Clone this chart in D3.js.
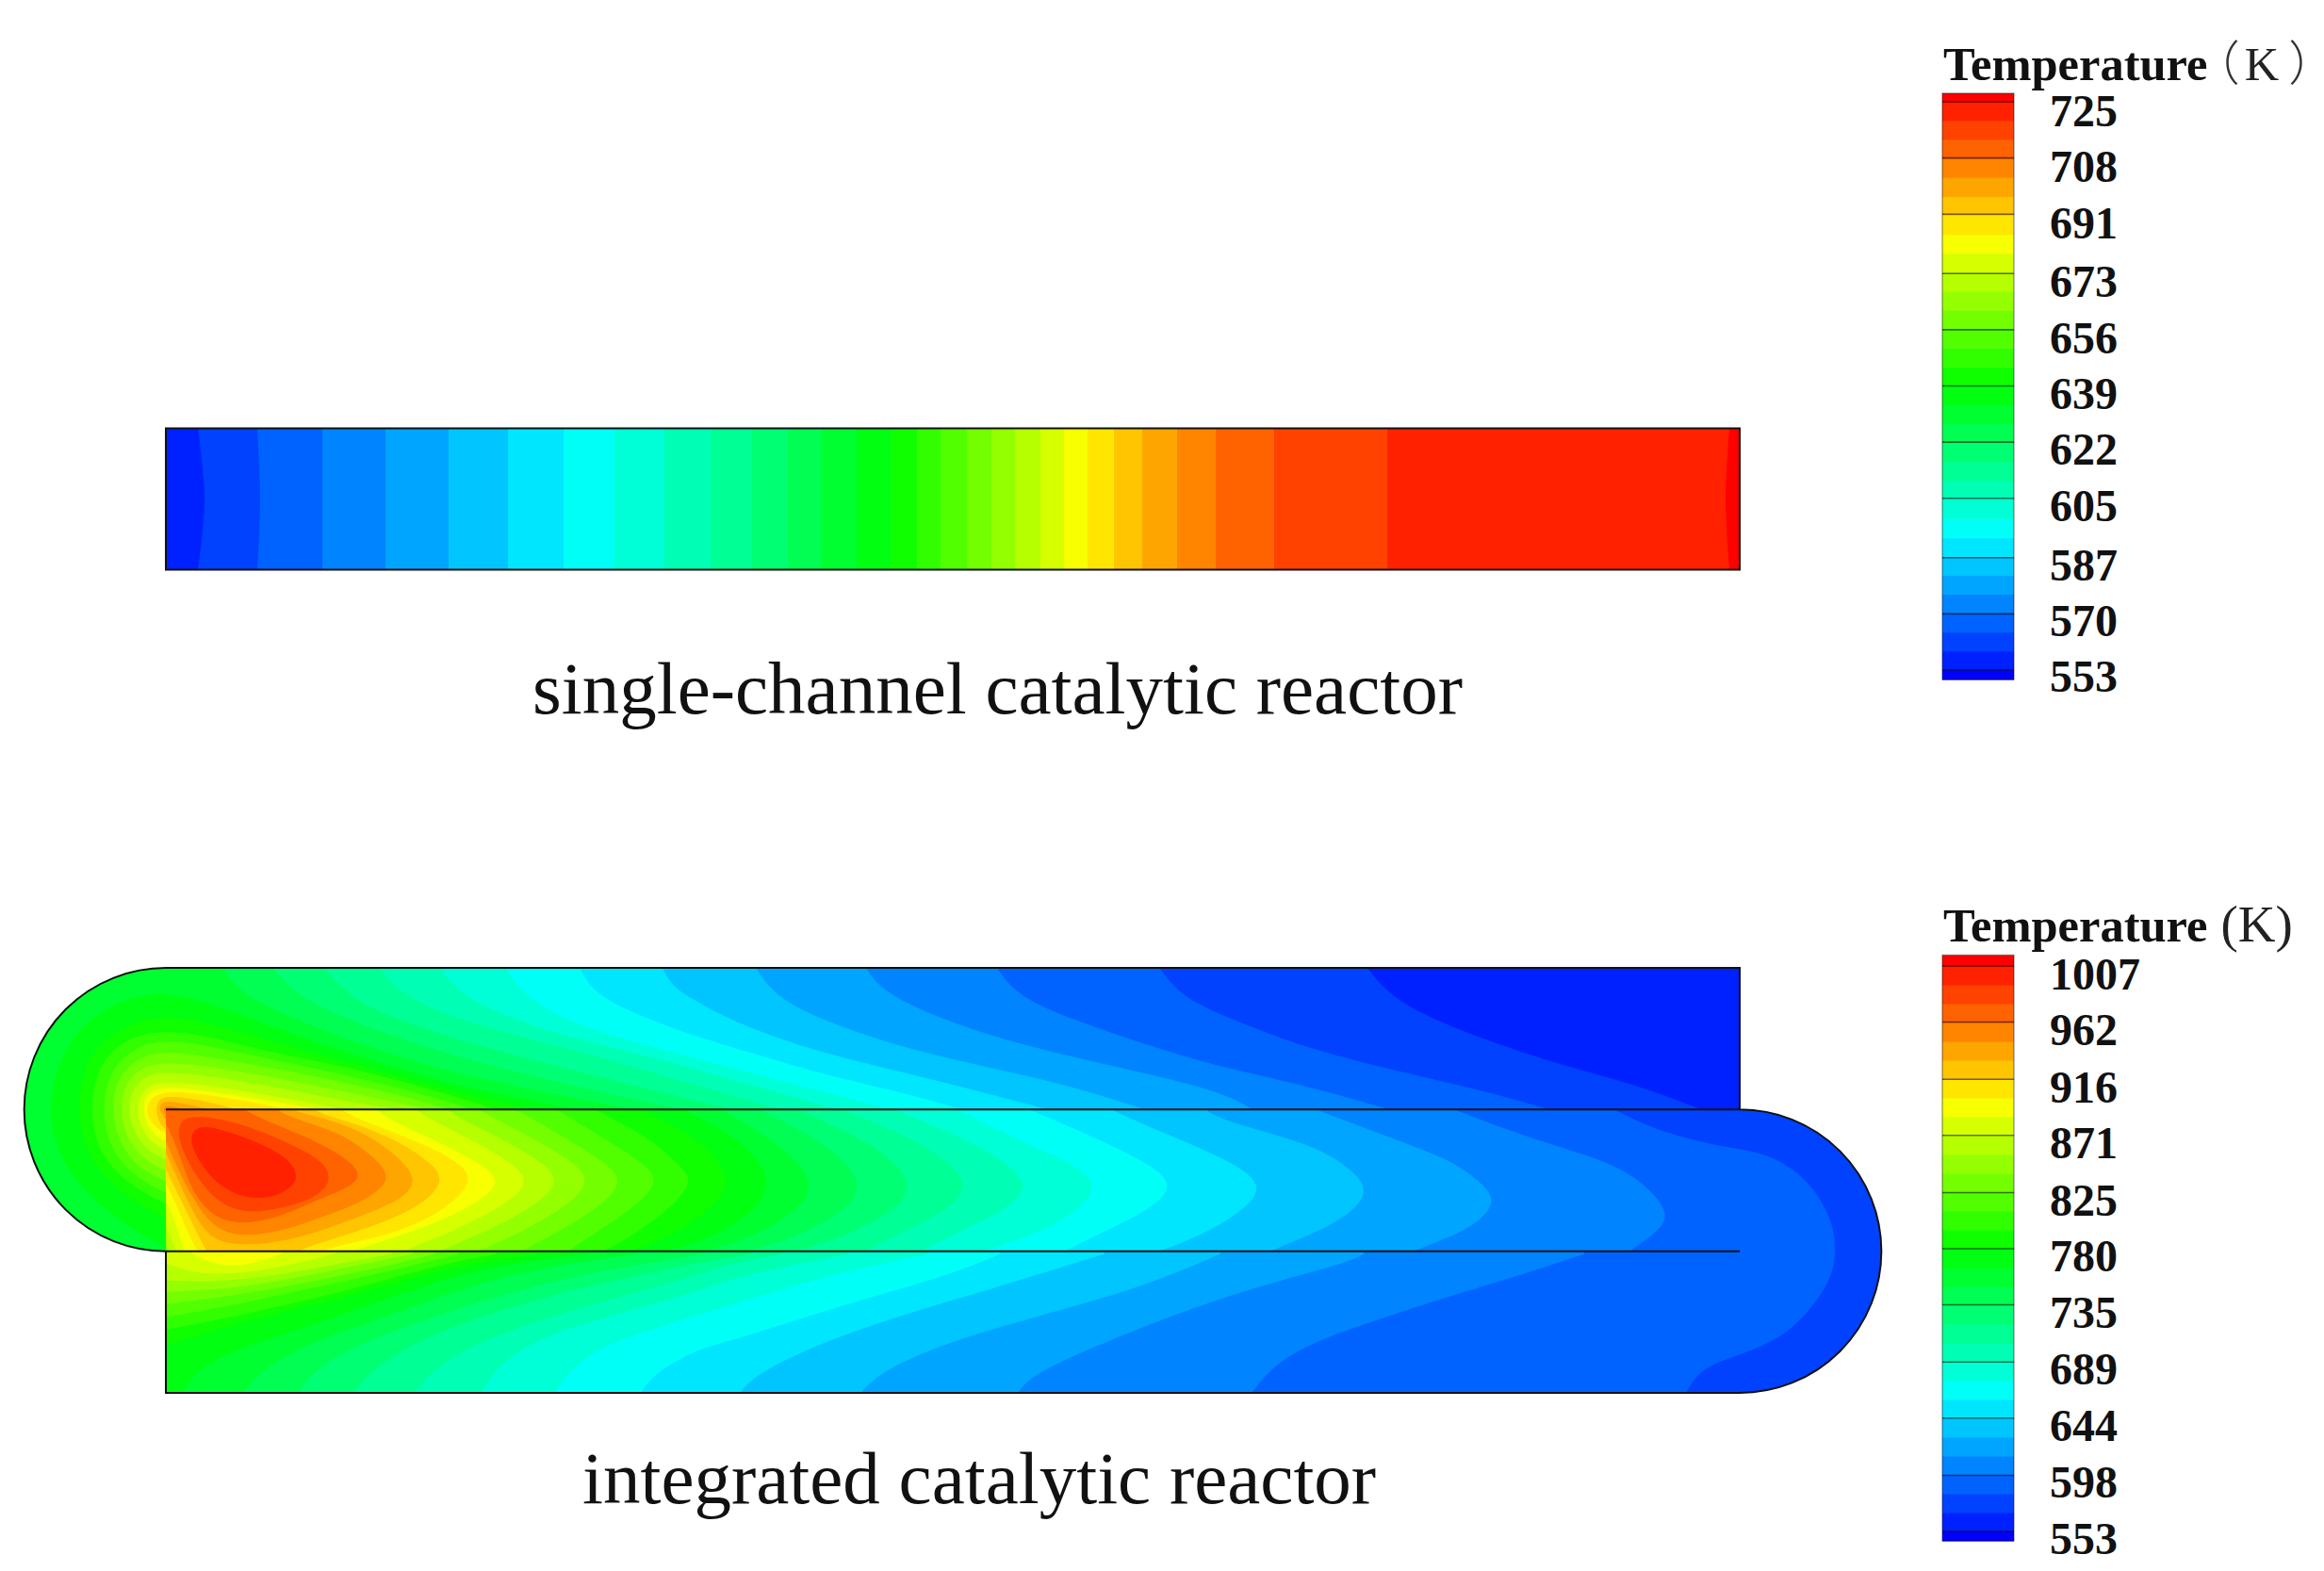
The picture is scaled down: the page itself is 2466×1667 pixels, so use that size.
<!DOCTYPE html>
<html><head><meta charset="utf-8">
<script src="https://cdn.jsdelivr.net/npm/d3@7/dist/d3.min.js"></script>
<style>html,body{margin:0;padding:0;background:#fff}svg{display:block}</style>
</head><body><svg id="c" width="2466" height="1667"></svg>
<script>
// ---------- readings ----------
const singleCaption = "single-channel catalytic reactor";
const integratedCaption = "integrated catalytic reactor";
const singleTicks = [553,570,587,605,622,639,656,673,691,708,725];
const integratedTicks = [553,598,644,689,735,780,825,871,916,962,1007];
const BAND_COUNT = 32;

// single channel: each contour level as [axial position at the walls, axial position at mid height]
const singleEdges = [[34,41],[97,100],[166,166],[233,233],[300,300],[363,363],[422,422],[476,476],[529,529],[578,578],[622,622],[660,660],[696,696],[733,733],[770,770],[797,797],[822,822],[850,850],[876,876],[901,901],[928,928],[953,953],[978,978],[1006,1006],[1036,1036],[1073,1073],[1114,1114],[1176,1176],[1296,1296],[1659,1655]];

// integrated reactor: contour level -> polyline [axial, transverse]
const topOpen = [
[1,[[1275,0],[1298,30],[1354,60],[1468,100],[1560,123],[1629,150]]],
[2,[[1054,0],[1077,30],[1124,52],[1174,71],[1216,86],[1308,110],[1399,130],[1468,150]]],
[3,[[882,0],[903,30],[965,56],[1054,86],[1124,106],[1216,126],[1298,150]]],
[4,[[743,0],[760,26],[831,58],[920,85],[1032,110],[1121,131],[1153,150]]],
[5,[[626,0],[646,30],[697,56],[786,86],[876,106],[965,126],[1039,150]]],
[6,[[527,0],[537,20],[564,36],[608,60],[697,91],[786,111],[898,140],[938,150]]],
[7,[[439,0],[451,23],[484,43],[531,61],[564,73],[608,86],[697,113],[786,133],[845,150]]],
[8,[[361,0],[377,26],[414,50],[464,70],[564,96],[653,120],[742,142],[764,150]]],
[9,[[291,0],[307,23],[347,46],[414,70],[497,90],[564,108],[650,132],[711,150]]],
[10,[[227,0],[247,26],[297,50],[364,70],[464,95],[564,125],[653,150]]],
[11,[[168,0],[197,33],[247,56],[331,83],[431,108],[564,142],[603,150]]],
[12,[[114,0],[134,26],[184,51],[247,75],[331,100],[431,125],[547,150]]],
[13,[[61,0],[77,26],[127,50],[184,73],[264,100],[364,125],[497,150]]]
];
const topPocket = [
[14,[[0,297],[-50,268],[-100,225],[-125,170],[-120,110],[-90,58],[-39,30],[0,26],[44,36],[111,62],[184,87],[264,112],[331,130],[437,150]]],
[15,[[0,266],[-50,238],[-85,198],[-95,150],[-85,92],[-45,60],[0,50],[44,58],[111,78],[184,97],[264,120],[331,137],[390,150]]],
[16,[[0,250],[-42,228],[-72,195],[-81,150],[-72,100],[-38,72],[0,66],[44,72],[111,90],[184,103],[270,125],[350,150]]],
[17,[[0,238],[-36,220],[-60,190],[-68,150],[-60,108],[-32,83],[0,76],[44,82],[111,97],[184,112],[260,130],[325,150]]],
[18,[[0,226],[-30,212],[-50,185],[-58,150],[-52,115],[-28,94],[0,88],[44,94],[111,106],[184,120],[250,135],[300,150]]],
[19,[[0,215],[-24,203],[-42,180],[-49,150],[-44,122],[-24,104],[0,100],[44,104],[111,115],[184,130],[280,150]]],
[20,[[0,203],[-18,195],[-34,175],[-41,150],[-36,128],[-20,113],[0,110],[44,114],[111,125],[184,140],[247,150]]],
[21,[[0,193],[-12,187],[-26,172],[-31,150],[-28,135],[-16,123],[0,120],[44,124],[111,135],[170,146],[190,150]]],
[22,[[0,183],[-9,180],[-21,166],[-24,150],[-23,140],[-16,130],[0,126],[44,130],[111,141],[165,150]]],
[23,[[0,175],[-10,170],[-18,160],[-21,150],[-17,138],[0,130],[44,134],[90,142],[130,150]]],
[24,[[0,171],[-7,165],[-11,150],[-8,140],[0,135],[40,140],[75,150]]],
[25,[[0,160],[-8,150],[-5,144],[0,140],[30,146],[48,150]]],
[26,[[0,155],[-3,150],[0,145],[20,150]]]
];
const rightCapLevel2 = [[1537,150],[1583,173],[1652,190],[1698,195],[1744,223],[1772,273],[1772,316],[1758,346],[1721,390],[1670,410],[1629,423],[1613,450]];
const midOpen = [
[2,rightCapLevel2],
[3,[[1367,150],[1445,180],[1537,206],[1574,233],[1598,263],[1578,283],[1553,300]]],
[4,[[1220,150],[1308,183],[1363,203],[1400,230],[1412,250],[1386,275],[1349,290],[1324,300]]],
[5,[[1103,150],[1124,163],[1216,186],[1258,213],[1278,236],[1256,262],[1216,282],[1172,300]]],
[6,[[1003,150],[1054,173],[1121,200],[1170,230],[1139,260],[1099,283],[1054,300]]],
[7,[[916,150],[987,180],[1041,206],[1072,230],[1045,256],[987,283],[954,300]]],
[8,[[840,150],[898,180],[961,206],[992,230],[965,260],[920,283],[867,300]]],
[9,[[773,150],[860,185],[928,230],[880,262],[830,285],[802,300]]],
[10,[[718,150],[805,185],[861,230],[820,262],[770,285],[742,300]]],
[11,[[670,150],[750,185],[801,230],[762,265],[710,288],[666,300]]],
[12,[[630,150],[700,185],[747,230],[710,265],[660,288],[617,300]]],
[13,[[590,150],[650,185],[695,230],[660,265],[615,288],[570,300]]],
[14,[[548,150],[610,180],[649,228],[615,265],[575,288],[530,300]]],
[15,[[504,150],[560,176],[608,225],[570,262],[530,286],[495,300]]],
[16,[[457,151],[514,180],[541,206],[562,225],[534,256],[491,286],[464,300]]],
[17,[[414,150],[464,180],[501,203],[527,225],[494,256],[447,286],[427,300]]],
[18,[[371,150],[424,180],[461,203],[489,225],[457,256],[404,286],[377,300]]],
[19,[[331,150],[381,176],[424,200],[455,225],[421,256],[364,286],[331,300]]]
];
const midPocket = [
[20,[[-20,130],[285,130],[294,151],[341,173],[391,200],[423,225],[387,256],[324,286],[287,300],[275,318],[5,318],[5,300],[-5,285]]],
[21,[[-20,130],[252,130],[261,151],[307,173],[354,198],[392,225],[357,253],[297,283],[247,300],[235,318],[15,318],[11,300],[5,285],[-5,262]]],
[22,[[-20,130],[210,130],[219,151],[264,173],[314,196],[364,225],[324,253],[264,280],[191,300],[180,318],[25,318],[19,300],[9,266],[-5,235]]],
[23,[[-20,130],[172,130],[181,151],[231,170],[281,190],[311,206],[328,225],[297,256],[247,280],[197,291],[160,300],[150,318],[40,318],[34,300],[21,276],[11,250],[-5,218]]],
[24,[[-20,130],[141,130],[150,151],[197,163],[247,183],[281,206],[297,225],[271,253],[214,276],[164,291],[137,300],[127,318],[50,318],[44,300],[34,283],[21,256],[-5,203]]],
[25,[[-20,130],[118,130],[127,151],[174,160],[214,176],[247,200],[268,225],[251,245],[214,260],[161,280],[111,293],[64,293],[44,283],[27,256],[14,226],[-5,185]]],
[26,[[-20,130],[102,130],[111,151],[164,168],[190,178],[221,200],[243,225],[205,250],[161,265],[127,278],[84,285],[54,278],[34,253],[17,223],[-5,172]]],
[27,[[-20,130],[68,130],[77,151],[144,176],[191,200],[215,225],[161,245],[127,262],[77,274],[44,260],[24,229],[11,186],[-5,155]]]
];
const midCore = [
[28,[[176,223],[166,203],[127,184],[77,163],[28,155],[12,164],[14,188],[36,228],[61,253],[94,261],[146,249],[166,237]]],
[29,[[141,220],[129,200],[94,183],[51,168],[31,168],[24,183],[39,212],[60,233],[84,244],[113,244],[134,232]]]
];
const lowOpen = [
[2,rightCapLevel2],
[3,[[1505,303],[1445,323],[1354,350],[1262,380],[1184,410],[1152,450]]],
[4,[[1271,303],[1253,313],[1124,346],[987,400],[920,430],[904,450]]],
[5,[[1119,303],[1032,340],[920,370],[831,396],[760,426],[737,450]]],
[6,[[996,303],[876,340],[786,366],[697,396],[626,430],[609,450]]],
[7,[[885,303],[831,326],[697,363],[608,393],[564,403],[517,430],[504,450]]],
[8,[[809,303],[697,326],[564,368],[514,383],[464,400],[431,423],[412,450]]],
[9,[[724,303],[608,326],[564,343],[497,361],[431,380],[381,400],[351,423],[334,450]]],
[10,[[653,303],[586,316],[564,326],[464,353],[397,373],[331,396],[281,426],[264,450]]],
[11,[[620,303],[564,312],[464,333],[397,350],[331,370],[264,396],[217,426],[199,450]]],
[12,[[570,303],[530,310],[464,320],[397,335],[324,356],[251,381],[201,400],[157,426],[141,450]]],
[13,[[500,303],[464,308],[397,318],[324,336],[251,363],[184,386],[134,406],[97,430],[82,450]]],
[14,[[447,303],[390,310],[324,320],[217,356],[151,380],[84,400],[34,423],[17,450]]],
[15,[[397,303],[324,312],[251,332],[184,350],[117,366],[51,383],[0,400]]],
[16,[[351,303],[300,312],[234,330],[151,352],[67,370],[0,383]]],
[17,[[310,303],[251,318],[151,340],[67,358],[0,370]]],
[18,[[285,303],[234,316],[151,333],[67,348],[0,356]]],
[19,[[262,303],[201,315],[117,333],[51,341],[0,343]]],
[20,[[240,303],[184,313],[117,326],[51,333],[0,331]]],
[21,[[184,301],[171,305],[117,318],[67,325],[27,323],[0,313]]]
];
const lowPocket = [
[22,[[21,290],[21,301],[61,318],[94,313],[131,301],[131,290]]]
];

// ---------- scales ----------
const svg = d3.select("#c");
const x = d3.scaleLinear().domain([0,1670]).range([176,1846]);
const y = d3.scaleLinear().domain([0,450]).range([1027,1478]);
const ySingle = d3.scaleLinear().domain([0,150]).range([454.5,604.5]);
const rainbow = d3.scaleLinear().domain([0,.25,.5,.75,1]).range(["#0000ff","#00ffff","#00ff00","#ffff00","#ff0000"]);
const band = k => rainbow(k/(BAND_COUNT-1));
const defs = svg.append("defs");

// ---------- single channel ----------
const single = svg.append("g");
defs.append("clipPath").attr("id","zs").append("rect")
  .attr("x",x(0)).attr("y",ySingle(0)).attr("width",x(1670)-x(0)).attr("height",ySingle(150)-ySingle(0));
const gs = single.append("g").attr("clip-path","url(#zs)");
gs.append("rect").attr("x",x(0)).attr("y",ySingle(0)).attr("width",x(1670)-x(0)).attr("height",ySingle(150)-ySingle(0)).attr("fill",band(1));
const sLine = d3.line().x(d=>x(d[0])).y(d=>ySingle(d[1])).curve(d3.curveCatmullRom.alpha(.5));
gs.selectAll("path").data(singleEdges).join("path")
  .attr("fill",(d,i)=>band(i+2))
  .attr("d",d=>sLine([[d[0],-1],[d[1],75],[d[0],151]])+`L${x(1700)},${ySingle(151)}L${x(1700)},${ySingle(-1)}Z`);
single.append("rect").attr("x",x(0)).attr("y",ySingle(0)).attr("width",x(1670)-x(0)).attr("height",ySingle(150)-ySingle(0))
  .attr("fill","none").attr("stroke","#111").attr("stroke-width",2);

// ---------- integrated ----------
const r = x(150)-x(0);
const P = (a,b)=>`${x(a)},${y(b)}`;
defs.append("clipPath").attr("id","z1").append("path")
  .attr("d",`M${P(0,0)}L${P(1670,0)}L${P(1670,150)}L${P(0,150)}L${P(0,300)}A${r},${r} 0 0 1 ${P(0,0)}Z`);
defs.append("clipPath").attr("id","z2").append("path")
  .attr("d",`M${P(0,150)}L${P(1670,150)}L${P(1670,300)}L${P(0,300)}Z`);
defs.append("clipPath").attr("id","z3").append("path")
  .attr("d",`M${P(0,300)}L${P(1670,300)}L${P(1670,150)}A${r},${r} 0 0 1 ${P(1670,450)}L${P(0,450)}Z`);
const lineI = d3.line().x(d=>x(d[0])).y(d=>y(d[1])).curve(d3.curveBasis);
const lineClosed = d3.line().x(d=>x(d[0])).y(d=>y(d[1])).curve(d3.curveBasisClosed);
const openPath = pts=>{
  const a=pts[0], b=pts[pts.length-1];
  return lineI(pts)+`L${P(b[0],b[1]+300)}L${P(-400,b[1]+300)}L${P(-400,a[1]-300)}L${P(a[0],a[1]-300)}Z`;
};
const pocketPath = pts=>lineI(pts)+"Z";
function zone(id,baseBand,layers){
  const g = svg.append("g").attr("clip-path",`url(#${id})`);
  g.append("rect").attr("x",0).attr("y",y(-10)).attr("width",2466).attr("height",y(460)-y(-10)).attr("fill",band(baseBand));
  layers.forEach(([rows,fn])=>{
    g.append("g").selectAll("path").data(rows).join("path")
      .attr("fill",d=>band(d[0]+1)).attr("d",d=>fn(d[1]));
  });
}
zone("z1",1,[[topOpen,openPath],[topPocket,pocketPath]]);
zone("z2",2,[[midOpen,openPath],[midPocket,pocketPath],[midCore,lineClosed]]);
zone("z3",2,[[lowOpen,openPath],[lowPocket,pocketPath]]);

const outline = [
 `M${P(0,300)}A${r},${r} 0 0 1 ${P(0,0)}L${P(1670,0)}L${P(1670,150)}`,
 `M${P(0,150)}L${P(1670,150)}A${r},${r} 0 0 1 ${P(1670,450)}L${P(0,450)}L${P(0,300)}L${P(1670,300)}`
].join("");
svg.append("path").attr("d",outline).attr("fill","none").attr("stroke","#111").attr("stroke-width",2);

// ---------- captions ----------
const serif = "'Liberation Serif','Times New Roman',serif";
svg.append("text").attr("x",565).attr("y",757).attr("font-family",serif).attr("font-size",79).attr("fill","#111").text(singleCaption);
svg.append("text").attr("x",618).attr("y",1595).attr("font-family",serif).attr("font-size",79).attr("fill","#111").text(integratedCaption);

// ---------- legends ----------
function legend(ticks,yTop,yBottom,tickTop,tickBottom,labelTop,labelBottom,title,titleY){
  const lo=ticks[0], hi=ticks[ticks.length-1];
  const s=d3.scaleLinear().domain([lo,hi]).range([tickBottom,tickTop]);
  const sLabel=d3.scaleLinear().domain([lo,hi]).range([labelBottom,labelTop]);
  const step=(hi-lo)/30;
  const g=svg.append("g");
  const xL=2061, w=76;
  const rows=d3.range(BAND_COUNT).map(k=>({k,
    a:k===0?yBottom:s(lo+(k-1)*step),
    b:k===BAND_COUNT-1?yTop:s(lo+k*step)}));
  g.selectAll("rect.b").data(rows).join("rect").attr("class","b")
    .attr("x",xL).attr("width",w).attr("y",d=>d.b).attr("height",d=>d.a-d.b+.5).attr("fill",d=>band(d.k));
  g.selectAll("line").data(ticks).join("line").attr("x1",xL).attr("x2",xL+w).attr("y1",d=>s(d)).attr("y2",d=>s(d))
    .attr("stroke","#000").attr("stroke-opacity",.55).attr("stroke-width",1.6);
  g.append("rect").attr("x",xL).attr("y",yTop).attr("width",w).attr("height",yBottom-yTop).attr("fill","none").attr("stroke","#000").attr("stroke-opacity",.35).attr("stroke-width",1.5);
  const axis=d3.axisRight(sLabel).tickValues(ticks).tickSize(0).tickPadding(0).tickFormat(d3.format("d"));
  const ax=g.append("g").attr("transform","translate(2175,0)").call(axis);
  ax.select(".domain").remove();
  ax.selectAll("text").attr("font-family",serif).attr("font-weight","bold").attr("font-size",48).attr("fill","#111").attr("dy","0.34em");
  const t=g.append("text").attr("x",2062).attr("y",titleY).attr("font-family",serif).attr("font-size",50.5).attr("font-weight","bold").attr("fill","#111");
  t.append("tspan").text("Temperature");
  title(t);
}
const cjk = "'Noto Sans CJK SC'";
legend(singleTicks,99,721,108,711,117,717.5,t=>{
  t.append("tspan").attr("dx",9).attr("font-family",cjk).attr("font-weight","300").attr("fill","#333").style("font-feature-settings","'halt'").text("（");
  t.append("tspan").attr("dx",5).attr("font-weight","normal").attr("fill","#222").text("K");
  t.append("tspan").attr("dx",10).attr("font-family",cjk).attr("font-weight","300").attr("fill","#333").style("font-feature-settings","'halt'").text("）");
},85);
legend(integratedTicks,1013.5,1635,1025,1625,1033,1632,t=>{
  t.append("tspan").attr("dx",14).attr("font-weight","normal").attr("font-size",55).attr("fill","#222").text("(K)");
},999);
</script></body></html>
